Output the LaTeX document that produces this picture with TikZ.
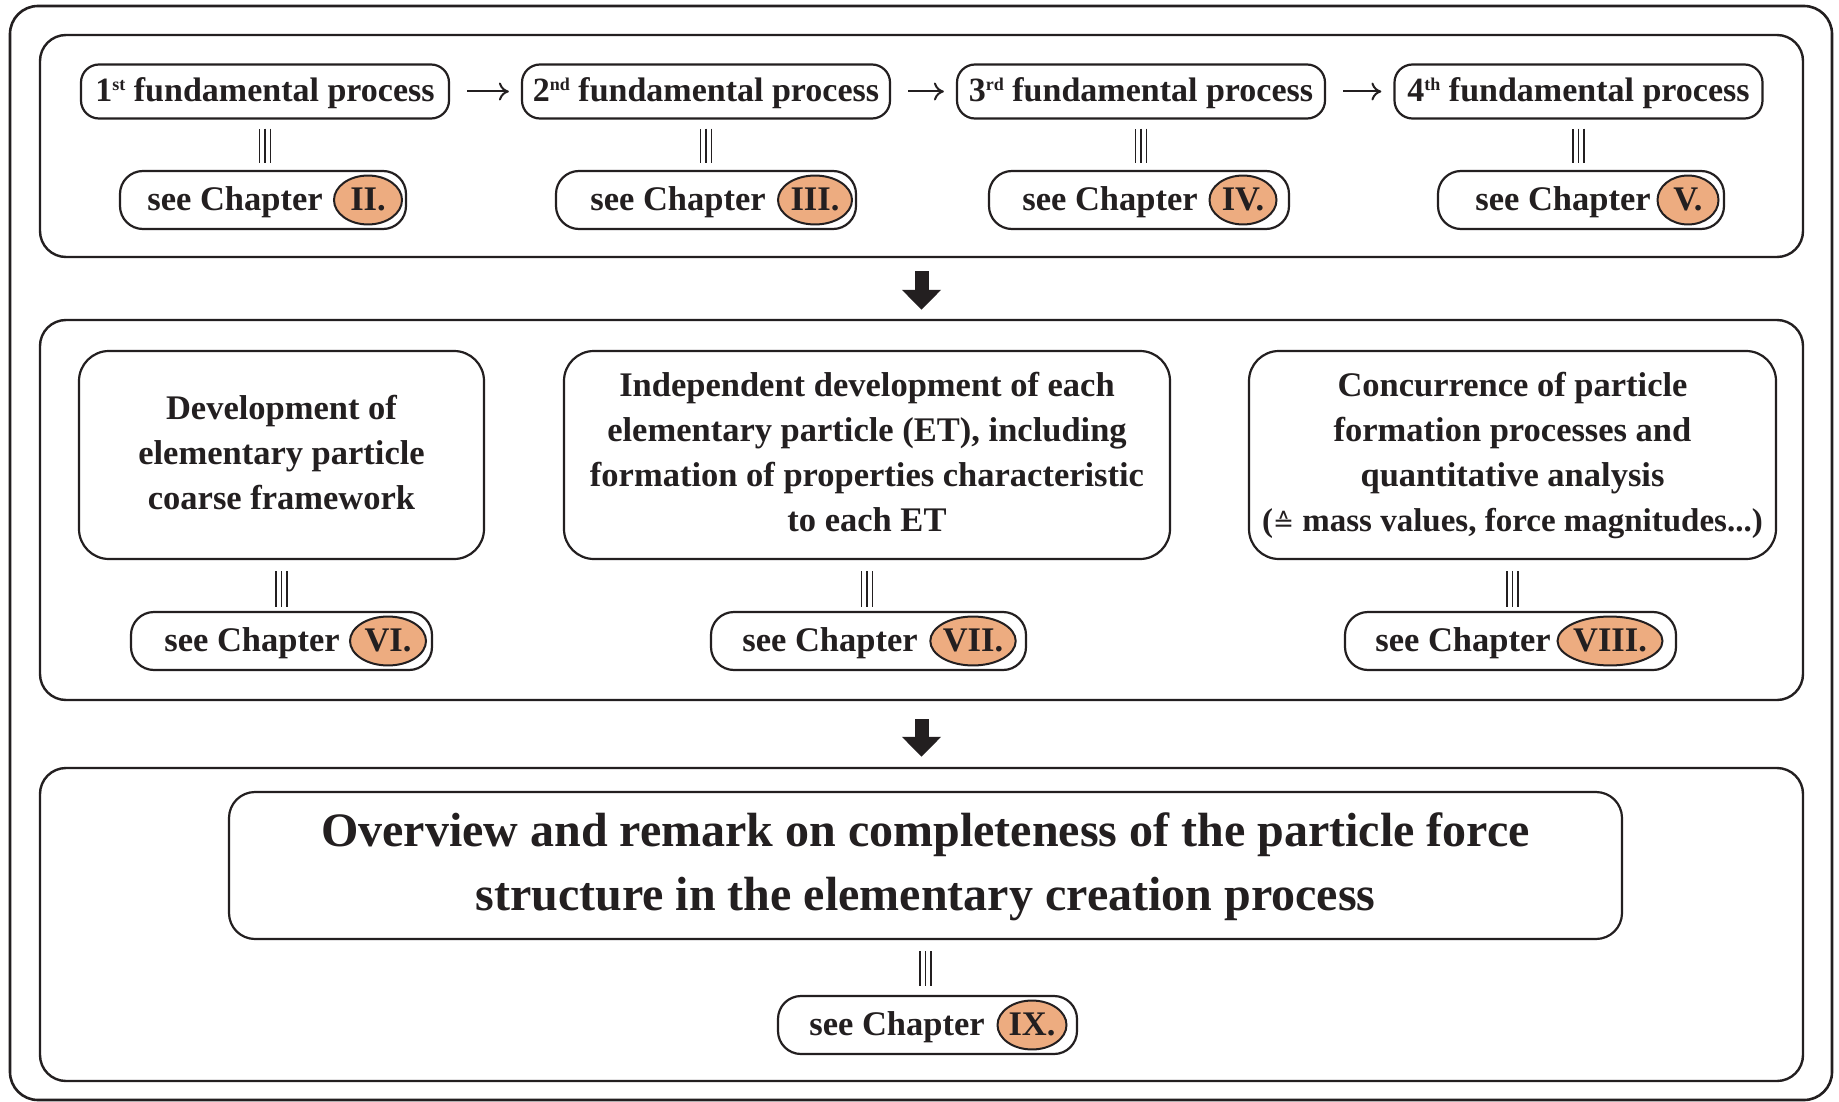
\documentclass[tikz,border=0pt]{standalone}
\usepackage{fontspec}
\setmainfont{Liberation Serif}
\newfontfamily\symfont{DejaVu Sans}
\usepackage{tikz}
\usetikzlibrary{calc}
\usetikzlibrary{arrows.meta}
\usetikzlibrary{shapes.geometric}
\usetikzlibrary{positioning}
\definecolor{ink}{RGB}{35,31,32}
\definecolor{chapfill}{RGB}{237,172,128}
\newcommand{\fs}[2]{\fontsize{#1}{#2}\selectfont\bfseries}
\newcommand{\ordsup}[1]{\raisebox{11pt}{\fontsize{18}{20}\selectfont #1}}
\tikzset{>=latex}
\tikzstyle{frame} = [draw=ink, line width=2.6, rounded corners=28, inner sep=0]
\tikzstyle{panel} = [draw=ink, line width=2.4, rounded corners=26, inner sep=0, minimum width=1763]
\tikzstyle{proc} = [draw=ink, line width=2.2, rounded corners=18, inner sep=0, minimum width=368, minimum height=54, text=ink, font=\fs{34}{40}, text height=28, text depth=7.6]
\tikzstyle{task} = [draw=ink, line width=2.2, rounded corners=30, inner sep=0, minimum height=208, align=center, text=ink, font=\fs{34.5}{45}]
\tikzstyle{chapbox} = [draw=ink, line width=2.2, rounded corners=23, inner sep=0, minimum height=58]
\tikzstyle{chaptxt} = [inner sep=0, text=ink, font=\fs{34.5}{40}, text height=28, text depth=6.6]
\tikzstyle{chapnum} = [ellipse, draw=ink, line width=2, fill=chapfill, inner sep=0, minimum height=47, text=ink, font=\fs{34.5}{40}, text height=28, text depth=6.6]
\tikzstyle{same} = [draw=ink, line width=1.3, preaction={draw=ink, line width=12.3}, preaction={draw=white, line width=9.7}]
\tikzstyle{flow} = [draw=ink, line width=2, -{To[length=10, width=18]}]
\tikzstyle{bigdown} = [draw=ink, line width=14, -{Triangle[length=20, width=38]}]

\begin{document}
\begin{tikzpicture}[x=1pt, y=-1pt]
\useasboundingbox [fill=white] (0,0) rectangle (1839,1102);
\node [frame, minimum width=1822, minimum height=1094] (outer) at (921, 553) {};
\node [panel, minimum height=222] (rowA) at (921.5, 146) {};
\node [panel, minimum height=380] (rowB) at (921.5, 510) {};
\node [panel, minimum height=313] (rowC) at (921.5, 924.5) {};
\draw [bigdown, shorten <=13, shorten >=9] (rowA) -- (rowB);
\draw [bigdown, shorten <=18, shorten >=10] (rowB) -- (rowC);

% fundamental processes
\node [proc] (P1) at (265, 91.5) {1\ordsup{st} fundamental process};
\node [proc] (P2) at (706, 91.5) {2\ordsup{nd} fundamental process};
\node [proc] (P3) at (1141, 91.5) {3\ordsup{rd} fundamental process};
\node [proc] (P4) at (1578.5, 91.5) {4\ordsup{th} fundamental process};
\draw [flow, shorten <=17, shorten >=12] (P1) -- (P2);
\draw [flow, shorten <=17, shorten >=12] (P2) -- (P3);
\draw [flow, shorten <=17, shorten >=12] (P3) -- (P4);

\node [chapbox, minimum width=286] (ch2) at (263, 200) {};
\node [chaptxt] (ch2t) at (235, 200) {see Chapter};
\node [chapnum, minimum width=68] (ch2n) at (368, 200) {II.};
\node [chapbox, minimum width=300] (ch3) at (706, 200) {};
\node [chaptxt] (ch3t) at (678, 200) {see Chapter};
\node [chapnum, minimum width=74] (ch3n) at (815, 200) {III.};
\node [chapbox, minimum width=300] (ch4) at (1139, 200) {};
\node [chaptxt] (ch4t) at (1110, 200) {see Chapter};
\node [chapnum, minimum width=67] (ch4n) at (1243, 200) {IV.};
\node [chapbox, minimum width=286] (ch5) at (1581, 200) {};
\node [chaptxt] (ch5t) at (1563, 200) {see Chapter};
\node [chapnum, minimum width=61] (ch5n) at (1688, 200) {V.};
\draw [same] ($(P1.south)+(0,9)$) -- ($(P1.south |- ch2.north)+(0,-7)$);
\draw [same] ($(P2.south)+(0,9)$) -- ($(P2.south |- ch3.north)+(0,-7)$);
\draw [same] ($(P3.south)+(0,9)$) -- ($(P3.south |- ch4.north)+(0,-7)$);
\draw [same] ($(P4.south)+(0,9)$) -- ($(P4.south |- ch5.north)+(0,-7)$);

% particle development
\node [task, minimum width=405] (devel) at (281.5, 455) {\raisebox{3pt}{\begin{tabular}{@{}c@{}}Development of\\elementary particle\\coarse framework\end{tabular}}};
\node [task, minimum width=606] (indep) at (867, 455) {\raisebox{3.5pt}{\begin{tabular}{@{}c@{}}Independent development of each\\elementary particle (ET), including\\formation of properties characteristic\\to each ET\end{tabular}}};
\node [task, minimum width=527] (concur) at (1512.5, 455) {Concurrence of particle\\formation processes and\\quantitative analysis\\{\fontsize{33}{45}\selectfont({\symfont\mdseries\fontsize{25}{45}\selectfont ≙} mass values, force magnitudes...)}};

\node [chapbox, minimum width=301] (ch6) at (281.5, 641) {};
\node [chaptxt] (ch6t) at (252, 641) {see Chapter};
\node [chapnum, minimum width=76] (ch6n) at (388, 641) {VI.};
\node [chapbox, minimum width=315] (ch7) at (868.5, 641) {};
\node [chaptxt] (ch7t) at (830, 641) {see Chapter};
\node [chapnum, minimum width=83] (ch7n) at (973, 641) {VII.};
\node [chapbox, minimum width=331] (ch8) at (1510.5, 641) {};
\node [chaptxt] (ch8t) at (1463, 641) {see Chapter};
\node [chapnum, minimum width=105] (ch8n) at (1610, 641) {VIII.};
\draw [same] ($(devel.south)+(0,11)$) -- ($(devel.south |- ch6.north)+(0,-4)$);
\draw [same] ($(indep.south)+(0,11)$) -- ($(indep.south |- ch7.north)+(0,-4)$);
\draw [same] ($(concur.south)+(0,11)$) -- ($(concur.south |- ch8.north)+(0,-4)$);

% overview
\node [draw=ink, line width=2.2, rounded corners=26, inner sep=0, minimum width=1393, minimum height=147, align=center, text=ink, font=\fs{48}{64.5}] (overview) at (925.5, 865.5) {\raisebox{-3.5pt}{\begin{tabular}{@{}c@{}}Overview and remark on completeness of the particle force\\structure in the elementary creation process\end{tabular}}};
\node [chapbox, minimum width=299] (ch9) at (927.5, 1025) {};
\node [chaptxt] (ch9t) at (897, 1025) {see Chapter};
\node [chapnum, minimum width=69] (ch9n) at (1032, 1025) {IX.};
\draw [same] ($(overview.south)+(0,11)$) -- ($(overview.south |- ch9.north)+(0,-9)$);
\end{tikzpicture}
\end{document}
